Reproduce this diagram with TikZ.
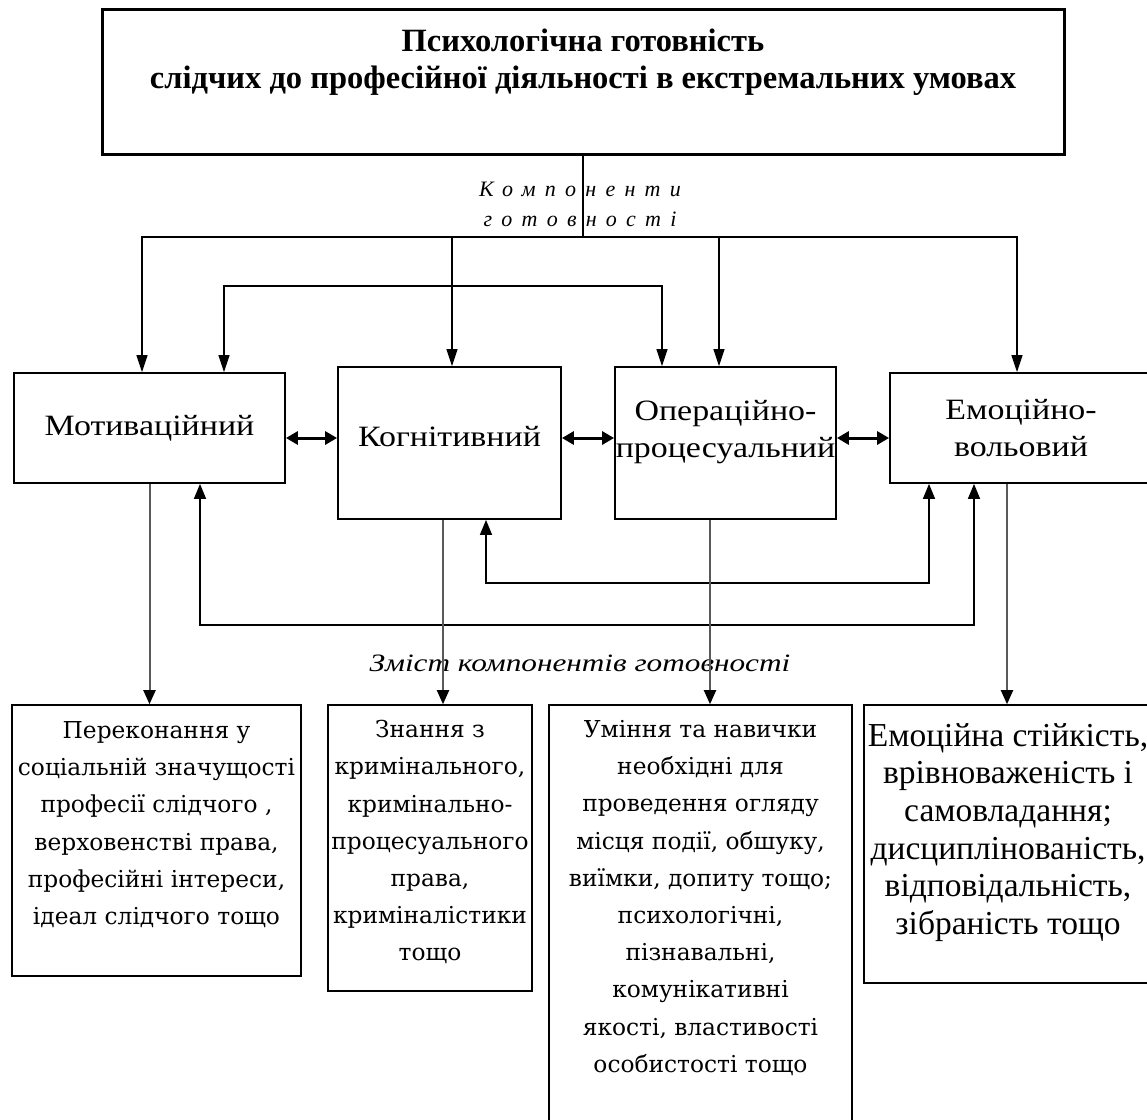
\documentclass[tikz,border=0pt]{standalone}
\usepackage{fontspec}
\setmainfont{Liberation Serif}
\newfontfamily\descfont{DejaVu Serif}
\newfontfamily\wideserif[FakeStretch=1.15]{Liberation Serif}
\newfontfamily\spacedfont[LetterSpace=42]{Liberation Serif}
\newfontfamily\contfont[FakeStretch=1.25]{Liberation Serif}
\usetikzlibrary{arrows.meta}
\begin{document}
\begin{tikzpicture}[x=1pt,y=-1pt,
  box/.style={draw, line width=1.8pt, rectangle, inner sep=0pt, align=center,
    font=\wideserif\fontsize{29.5}{37}\selectfont},
  descbox/.style={draw, line width=1.6pt, rectangle, inner sep=0pt},
  desctext/.style={anchor=north, inner sep=0pt, align=center,
    font=\descfont\fontsize{23.3}{37.2}\selectfont},
  conn/.style={line width=1.4pt, -{Triangle[width=11pt,length=17pt]}},
  conntwo/.style={line width=1.4pt,
    {Triangle[width=11pt,length=17pt]}-{Triangle[width=11pt,length=17pt]}},
  dbl/.style={line width=3pt,
    {Triangle[width=13pt,length=12pt]}-{Triangle[width=13pt,length=12pt]}},
  backlink/.style={line width=1.5pt,
    {Triangle[width=12pt,length=15pt]}-{Triangle[width=12pt,length=15pt]}},
  down/.style={line width=2pt, draw=black!65,
    -{Triangle[width=12pt,length=14pt,color=black]}}
]
\useasboundingbox (0,0) rectangle (1147,1119);
\fill[white] (0,0) rectangle (1147,1119);

% title
\node[box, line width=3pt, minimum width=962pt, minimum height=145pt] (top) at (583,81.5) {};
\node[inner sep=0pt, align=center, font=\bfseries\fontsize{32.5}{37}\selectfont] (ttl) at (583,62)
  {Психологічна готовність\\слідчих до професійної діяльності в екстремальних умовах};

% components label
\node[inner sep=0pt, align=center, font=\spacedfont\itshape\fontsize{22}{30}\selectfont] (comp) at (580,204)
  {Компоненти\\готовності};

% component boxes
\node[box, minimum width=271pt, minimum height=110pt] (mot) at (149.5,428) {Мотиваційний};
\node[box, minimum width=223pt, minimum height=152pt, text depth=14pt] (cog) at (449.5,443) {Когнітивний};
\node[box, minimum width=221pt, minimum height=152pt, text depth=28pt] (op) at (725.5,443) {Операційно-\\процесуальний};
\node[box, minimum width=262pt, minimum height=110pt] (em) at (1021,428) {Емоційно-\\вольовий};

% content label
\node[inner sep=0pt, font=\contfont\itshape\fontsize{25}{30}\selectfont] (cont) at (580,663)
  {Зміст компонентів готовності};

% description boxes
\node[descbox, minimum width=289pt, minimum height=271pt] (d1) at (156.5,840.5) {};
\node[desctext] (t1) at ([yshift=-17pt]d1.north)
  {Переконання у\\соціальній значущості\\професії слідчого ,\\верховенстві права,\\професійні інтереси,\\ідеал слідчого тощо};
\node[descbox, minimum width=204pt, minimum height=286pt] (d2) at (430,848) {};
\node[desctext] (t2) at ([yshift=-16pt]d2.north)
  {Знання з\\кримінального,\\кримінально-\\процесуального\\права,\\криміналістики\\тощо};
\node[descbox, minimum width=303pt, minimum height=420pt] (d3) at (700.5,915) {};
\node[desctext] (t3) at ([yshift=-16pt]d3.north)
  {Уміння та навички\\необхідні для\\проведення огляду\\місця події, обшуку,\\виїмки, допиту тощо;\\психологічні,\\пізнавальні,\\комунікативні\\якості, властивості\\особистості тощо};
\node[descbox, minimum width=288pt, minimum height=278pt] (d4) at (1008,844) {};
\node[anchor=north, inner sep=0pt, align=center, font=\fontsize{33.5}{37.6}\selectfont] (t4) at ([yshift=-19pt]d4.north)
  {Емоційна стійкість,\\врівноваженість і\\самовладання;\\дисциплінованість,\\відповідальність,\\зібраність тощо};

% from title to components
\draw[line width=1.4pt] (top.south) -- (top.south |- 0,237) coordinate (hub);
\draw[conn] (hub) -| ([xshift=-7.5pt]mot.north);
\draw[conn] (hub) -| ([xshift=2.5pt]cog.north);
\draw[conn] (hub) -| ([xshift=-6.5pt]op.north);
\draw[conn] (hub) -| ([xshift=-4pt]em.north);
\draw[conntwo] ([xshift=74.5pt]mot.north) -- ++(0,-86) -| ([xshift=-63.5pt]op.north);

% horizontal links
\draw[dbl] (mot.east |- 0,438) -- (cog.west |- 0,438);
\draw[dbl] (cog.east |- 0,438) -- (op.west |- 0,438);
\draw[dbl] (op.east |- 0,438) -- (em.west |- 0,438);

% lower links
\draw[backlink] ([xshift=36.5pt]cog.south) -- ++(0,63) -| ([xshift=-92pt]em.south);
\draw[backlink] ([xshift=50.5pt]mot.south) -- ++(0,141) -| ([xshift=-47pt]em.south);

% to descriptions
\draw[down] (mot.south) -- (mot.south |- d1.north);
\draw[down] ([xshift=-6.5pt]cog.south) -- ([xshift=-6.5pt]cog.south |- d2.north);
\draw[down] ([xshift=-15.5pt]op.south) -- ([xshift=-15.5pt]op.south |- d3.north);
\draw[down] ([xshift=-14pt]em.south) -- ([xshift=-14pt]em.south |- d4.north);
\end{tikzpicture}
\end{document}
